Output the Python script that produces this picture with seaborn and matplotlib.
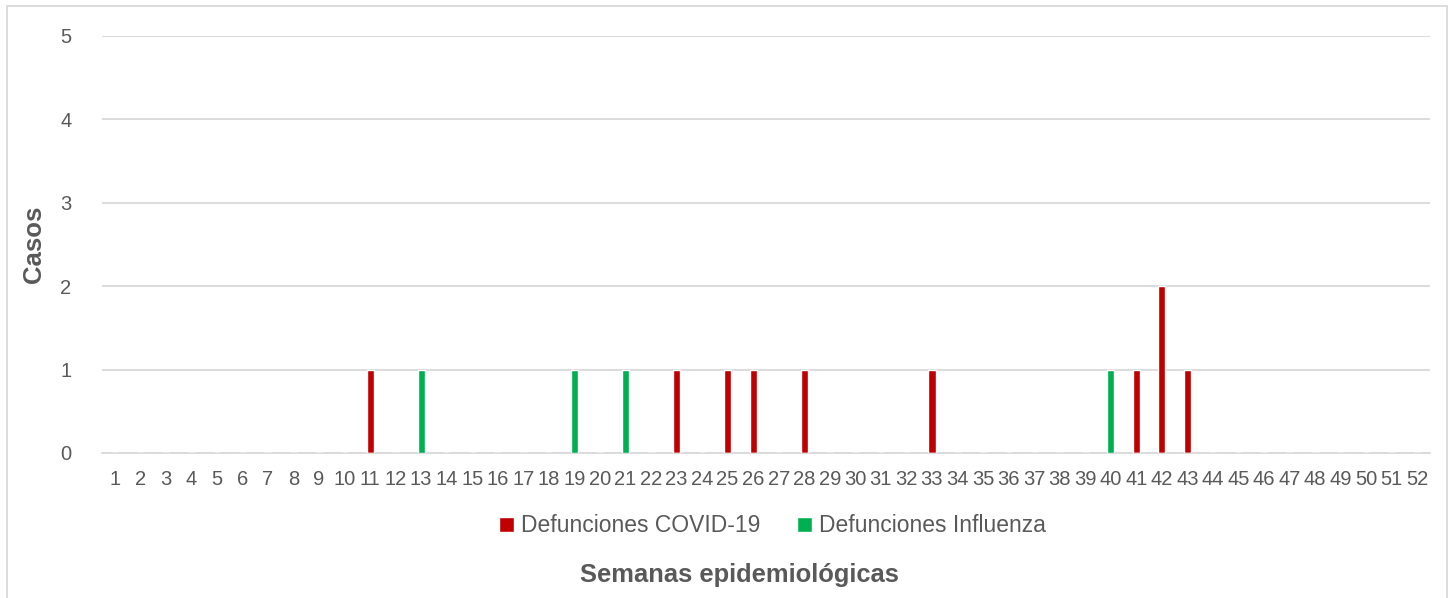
import matplotlib
matplotlib.use("Agg")
import matplotlib.pyplot as plt
from matplotlib.patches import Rectangle
import pandas as pd
import seaborn as sns

# Semanas epidemiológicas 1..52
semanas = list(range(1, 53))

# semanas con casos
covid_semanas = [11, 23, 25, 26, 28, 33, 41, 42, 43]
covid_casos = [1, 1, 1, 1, 1, 1, 1, 2, 1]
influenza_semanas = [13, 19, 21, 40]
influenza_casos = [1, 1, 1, 1]

serie_covid = "Defunciones COVID-19"
serie_influenza = "Defunciones Influenza"

gris = "#595959"

# tabla larga para seaborn
filas = []
for s in semanas:
    c = covid_casos[covid_semanas.index(s)] if s in covid_semanas else 0
    i = influenza_casos[influenza_semanas.index(s)] if s in influenza_semanas else 0
    filas.append({"Semana": str(s), "Serie": serie_covid, "Casos": c})
    filas.append({"Semana": str(s), "Serie": serie_influenza, "Casos": i})
df = pd.DataFrame(filas)

sns.set_theme(style="white")
plt.rcParams["font.family"] = ["Liberation Sans", "DejaVu Sans"]

fig = plt.figure(figsize=(14.52, 5.98), dpi=100)
ax = fig.add_axes([0.0702, 0.2425, 0.9146, 0.6973])

sns.barplot(
    data=df,
    x="Semana",
    y="Casos",
    hue="Serie",
    order=[str(s) for s in semanas],
    hue_order=[serie_covid, serie_influenza],
    palette={serie_covid: "#C00000", serie_influenza: "#00B050"},
    saturation=1,
    dodge=False,
    width=0.28,
    errorbar=None,
    ax=ax,
    zorder=3,
)

ax.set_xlim(-0.5, len(semanas) - 0.5)
ax.set_ylim(0, 5)
ax.set_yticks(range(0, 6))
ax.yaxis.grid(True, color="#D9D9D9", linewidth=1.3, zorder=0)
ax.set_axisbelow(True)
for side in ["top", "right", "left"]:
    ax.spines[side].set_visible(False)
ax.spines["bottom"].set_color("#D9D9D9")
ax.spines["bottom"].set_linewidth(1.3)

ax.tick_params(axis="x", labelsize=14.5, colors=gris, length=0, pad=12)
ax.tick_params(axis="y", labelsize=14.5, colors=gris, length=0, pad=22)

ax.set_ylabel("Casos", fontsize=18.5, fontweight="bold", color=gris, labelpad=10)
ax.set_xlabel("")
fig.text(0.509, 0.038, "Semanas epidemiológicas", ha="center", va="center",
         fontsize=18.4, fontweight="bold", color=gris)

ax.legend(
    loc="center",
    bbox_to_anchor=(0.505, -0.175),
    ncol=2,
    frameon=False,
    fontsize=16.5,
    handlelength=0.65,
    handleheight=0.65,
    handletextpad=0.3,
    columnspacing=1.6,
    labelcolor=gris,
)

# marco del área del gráfico
fig.add_artist(Rectangle((7 / 1452, -0.1), 1440 / 1452, 1.1 - 6 / 598,
                         transform=fig.transFigure, fill=False,
                         edgecolor="#D9D9D9", linewidth=1.3))

fig.savefig("out.png", dpi=100)
